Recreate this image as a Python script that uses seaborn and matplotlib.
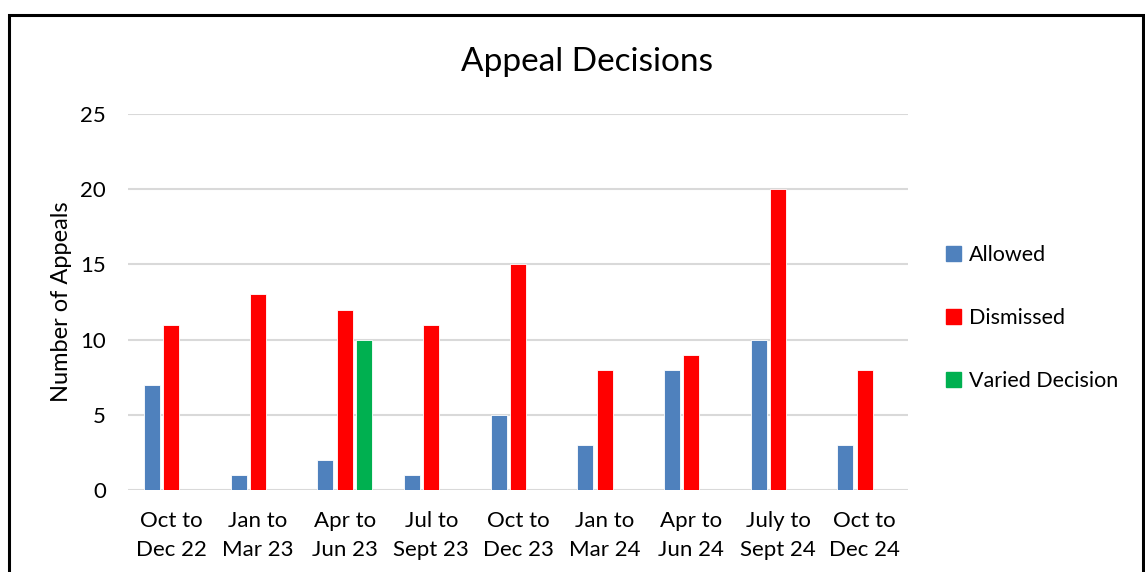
import numpy as np
import pandas as pd
import matplotlib
matplotlib.use("Agg")
import matplotlib.pyplot as plt
import matplotlib.patches as mpatches
import seaborn as sns

periods = ["Oct to\nDec 22", "Jan to\nMar 23", "Apr to\nJun 23", "Jul to\nSept 23",
           "Oct to\nDec 23", "Jan to\nMar 24", "Apr to\nJun 24", "July to\nSept 24",
           "Oct to\nDec 24"]
allowed = [7, 1, 2, 1, 5, 3, 8, 10, 3]
dismissed = [11, 13, 12, 11, 15, 8, 9, 20, 8]
varied = [np.nan, np.nan, 10, np.nan, np.nan, np.nan, np.nan, np.nan, np.nan]
series_names = ["Allowed", "Dismissed", "Varied Decision"]
series_colors = ["#4F81BD", "#FF0000", "#00B050"]

# long-form table for seaborn
df = pd.DataFrame({
    "period": periods * 3,
    "decision": [series_names[0]] * 9 + [series_names[1]] * 9 + [series_names[2]] * 9,
    "count": allowed + dismissed + varied,
})

sns.set_style("white")
plt.rcParams["font.family"] = ["Lato", "DejaVu Sans"]
plt.rcParams["text.color"] = "black"
plt.rcParams["axes.labelcolor"] = "black"

fig = plt.figure(figsize=(11.45, 5.72), dpi=100)
ax = fig.add_axes([128 / 1145, 1 - 490 / 572, 780 / 1145, 376 / 572])

sns.barplot(data=df, x="period", y="count", hue="decision", order=periods,
            hue_order=series_names, palette=series_colors, width=0.667, gap=0.18,
            edgecolor="white", linewidth=0.6, saturation=1, ax=ax, legend=False)

ax.set_ylim(0, 25)
ax.set_xlim(-0.5, 8.5)
ax.set_yticks([0, 5, 10, 15, 20, 25])
ax.yaxis.grid(True, color="#d9d9d9", linewidth=1.5)
ax.set_axisbelow(True)
for s in ["top", "right", "left", "bottom"]:
    ax.spines[s].set_visible(False)
ax.tick_params(axis="both", length=0, labelsize=16, colors="black")
ax.tick_params(axis="x", pad=15)
ax.tick_params(axis="y", pad=16)
for lbl in ax.get_xticklabels():
    lbl.set_linespacing(1.55)
ax.set_xlabel("")
ax.set_ylabel("Number of Appeals", fontsize=17)
ax.yaxis.set_label_coords(-0.0718, 0.5)

fig.text(587 / 1145, 1 - 62 / 572, "Appeal Decisions", fontsize=24,
         ha="center", va="center")

handles = [mpatches.Patch(color=c, label=n) for n, c in zip(series_names, series_colors)]
fig.legend(handles=handles, loc="center left", bbox_to_anchor=(927 / 1145, 1 - 318 / 572),
           frameon=False, fontsize=15.5, labelspacing=2.0, handlelength=0.67,
           handleheight=0.67, handletextpad=0.4)

# chart border
fig.patches.append(mpatches.Rectangle((9 / 1145, -0.1), 1134 / 1145, 1.1 - 15 / 572,
                                      transform=fig.transFigure, fill=False,
                                      edgecolor="black", linewidth=2.2))

fig.savefig("out.png", dpi=100)
